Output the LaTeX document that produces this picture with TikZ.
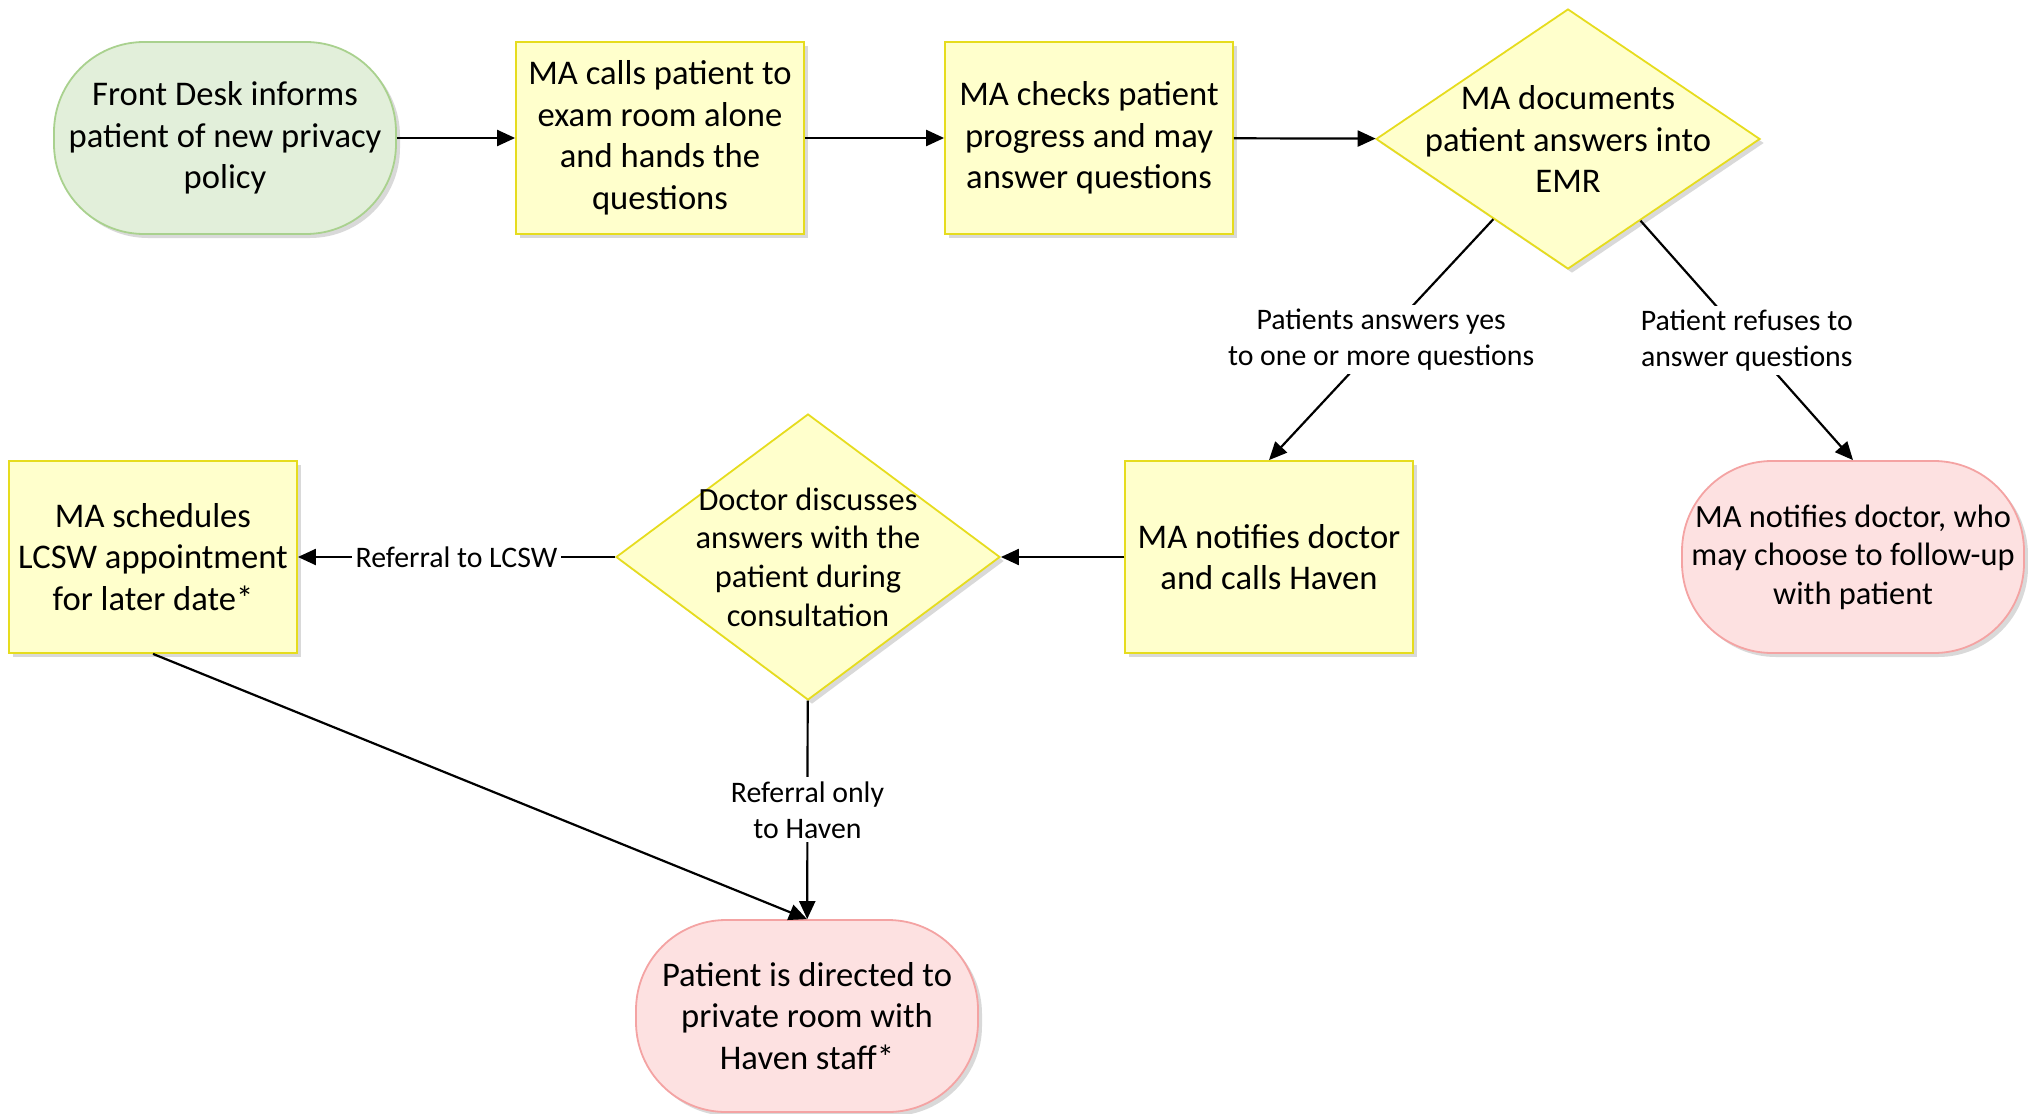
\documentclass[tikz,border=0pt]{standalone}
\usepackage{fontspec}
\setmainfont{Carlito}
\usetikzlibrary{positioning,shapes.geometric,shadows,arrows.meta}

\definecolor{startfill}{HTML}{E2EFDA}
\definecolor{startline}{HTML}{A9D18E}
\definecolor{stepfill}{HTML}{FFFFCC}
\definecolor{stepline}{HTML}{E6DC1E}
\definecolor{endfill}{HTML}{FDE1E1}
\definecolor{endline}{HTML}{F4A3A3}

\newcommand\boxfont{\fontsize{17.3}{20.75}\selectfont}
\newcommand\smallboxfont{\fontsize{16.2}{19.3}\selectfont}
\newcommand\edgefont{\fontsize{14.9}{18}\selectfont}

\begin{document}
\begin{tikzpicture}[x=0.5pt,y=-0.5pt,
every node/.style={align=center, font=\boxfont, line width=0.9pt},
shade/.style={drop shadow={shadow xshift=2pt, shadow yshift=-2pt, fill=black, opacity=0.15}},
stepbox/.style={rectangle, draw=stepline, fill=stepfill, shade, minimum width=144pt, minimum height=96pt},
startbox/.style={rectangle, rounded corners=45pt, draw=startline, fill=startfill, shade, minimum width=171pt, minimum height=96pt},
endbox/.style={rectangle, rounded corners=45pt, draw=endline, fill=endfill, shade, minimum width=171pt, minimum height=96pt},
choice/.style={diamond, draw=stepline, fill=stepfill, shade, inner sep=0pt},
edgelabel/.style={fill=white, font=\edgefont, inner sep=2pt},
flow/.style={->, line width=1.1pt, >={Triangle[length=9pt,width=8pt]}}
]
  \useasboundingbox (0,0) rectangle (2028,1113);

  % top row
  \node[startbox] (front) at (225,138) {Front Desk informs\\patient of new privacy\\policy};
  \node[stepbox] (calls) at (660,138) {MA calls patient to\\exam room alone\\and hands the\\questions};
  \node[stepbox] (checks) at (1089,138) {MA checks patient\\progress and may\\answer questions};
  \node[choice, minimum width=192pt, minimum height=130pt,
        label={center:MA documents\\patient answers into\\EMR}] (emr) at (1568,139) {};

  % middle row
  \node[stepbox] (notify) at (1269,557) {MA notifies doctor\\and calls Haven};
  \node[endbox, font=\smallboxfont] (followup) at (1853,557) {MA notifies doctor, who\\may choose to follow-up\\with patient};
  \node[choice, minimum width=192pt, minimum height=143pt,
        label={[font=\smallboxfont]center:Doctor discusses\\answers with the\\patient during\\consultation}] (discuss) at (808,557) {};
  \node[stepbox] (sched) at (153,557) {MA schedules\\LCSW appointment\\for later date*};

  % bottom
  \node[endbox] (haven) at (807,1016) {Patient is directed to\\private room with\\Haven staff*};

  \draw[flow] (front) -- (calls);
  \draw[flow] (calls) -- (checks);
  \draw[flow] (checks) -- (emr);
  \draw[flow] (emr) -- (notify.north)
    node[edgelabel, midway] {Patients answers yes\\to one or more questions};
  \draw[flow] (emr) -- (followup.north)
    node[edgelabel, midway] {Patient refuses to\\answer questions};
  \draw[flow] (notify) -- (discuss);
  \draw[flow] (discuss) -- (sched)
    node[edgelabel, midway] {Referral to LCSW};
  \draw[flow] (discuss) -- (haven)
    node[edgelabel, midway] {Referral only\\to Haven};
  \draw[flow] (sched.south) -- (haven.north);
\end{tikzpicture}
\end{document}
